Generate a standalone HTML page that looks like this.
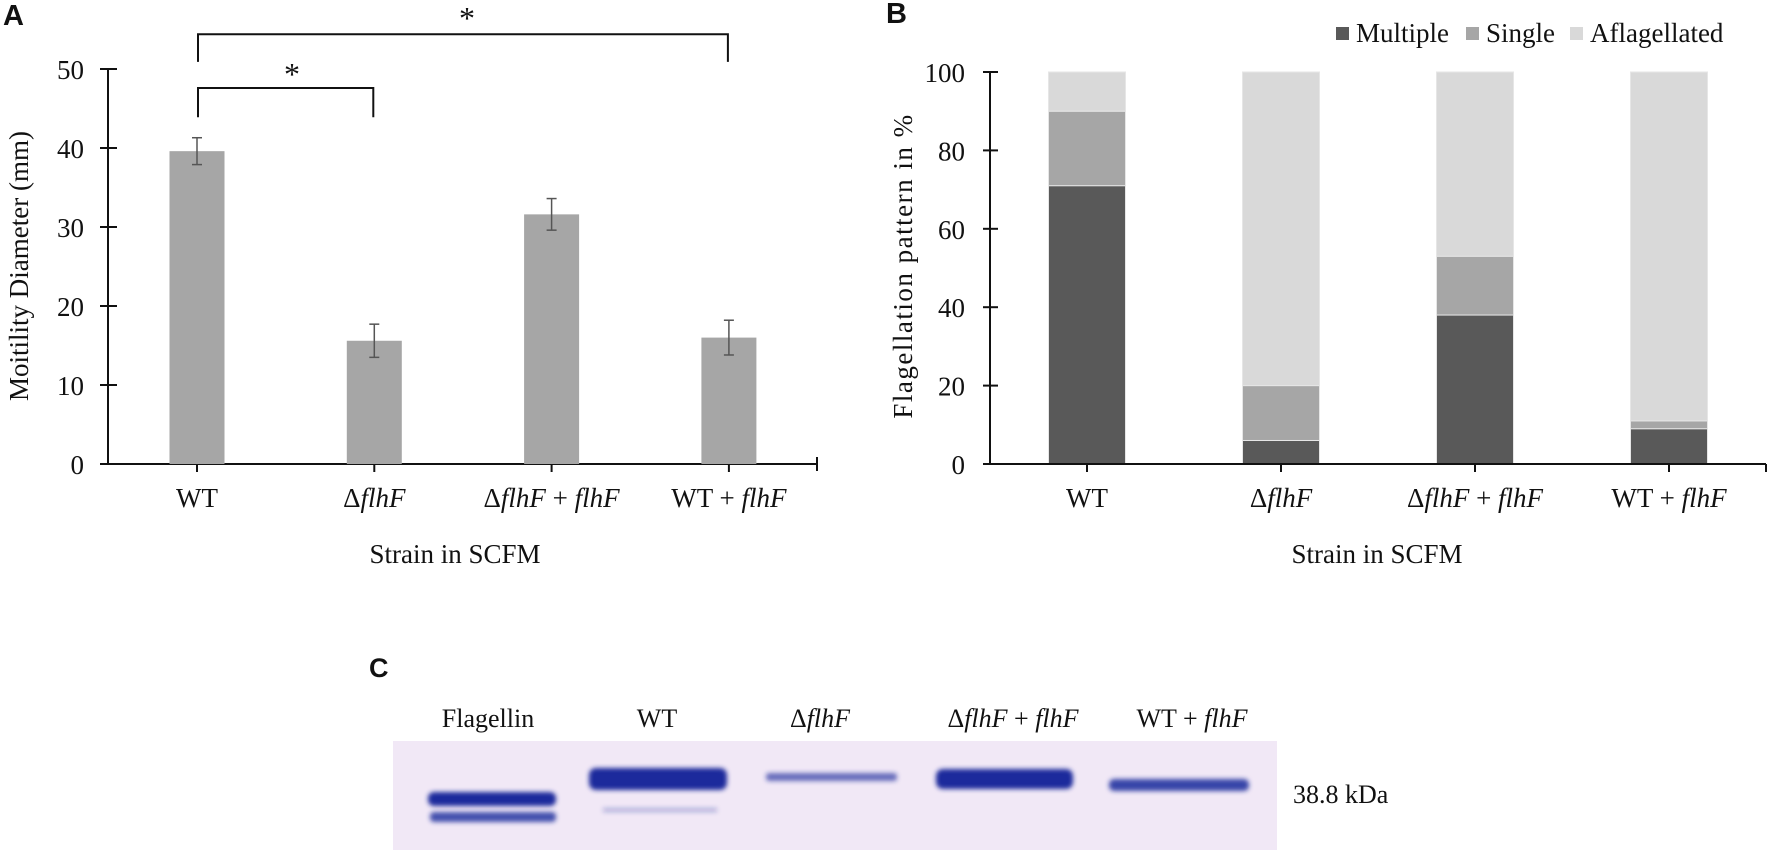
<!DOCTYPE html>
<html><head><meta charset="utf-8">
<style>
body{margin:0;background:#fff;width:1772px;height:850px;overflow:hidden}
svg text{font-family:"Liberation Serif",serif;fill:#111}
.lab{font-family:"Liberation Sans",sans-serif;font-weight:bold}
</style></head><body>
<svg id="fig" width="1772" height="850" viewBox="0 0 1772 850" xmlns="http://www.w3.org/2000/svg">
<defs>
<filter id="blur" x="-20%" y="-150%" width="140%" height="400%"><feGaussianBlur stdDeviation="2.5"/></filter>
</defs>
<text class="lab" x="3" y="25" font-size="29">A</text>
<text class="lab" x="886" y="23" font-size="29">B</text>
<text class="lab" x="369" y="677" font-size="27">C</text>
<g id="chartA"></g>
<g id="chartB"></g>
<g id="gel">
<rect x="393" y="741" width="884" height="109" fill="#f1e8f6"/>
<g filter="url(#blur)" fill="#1b2c9c">
<rect x="428" y="792" width="128" height="14" rx="6"/>
<rect x="430" y="812" width="126" height="10" rx="4" opacity="0.8"/>
<rect x="589" y="768" width="138" height="22" rx="7"/>
<rect x="603" y="808" width="114" height="4" opacity="0.3"/>
<rect x="766" y="773" width="131" height="8" rx="3" opacity="0.65"/>
<rect x="936" y="769" width="137" height="20" rx="7"/>
<rect x="1109" y="779" width="140" height="12" rx="5" opacity="0.85"/>
</g>
</g>
<text x="488" y="727" font-size="26" text-anchor="middle">Flagellin</text>
<text x="657" y="727" font-size="26" text-anchor="middle">WT</text>
<text x="820" y="727" font-size="26" text-anchor="middle">Δ<tspan font-style="italic">flhF</tspan></text>
<text x="1013" y="727" font-size="26" text-anchor="middle">Δ<tspan font-style="italic">flhF</tspan> + <tspan font-style="italic">flhF</tspan></text>
<text x="1192" y="727" font-size="26" text-anchor="middle">WT + <tspan font-style="italic">flhF</tspan></text>
<text x="1293" y="803" font-size="26">38.8  kDa</text>
</svg>
<script>
const NS='http://www.w3.org/2000/svg';
const categories=['WT','ΔflhF','ΔflhF + flhF','WT + flhF'];
const motility=[39.6,15.6,31.6,16.0];
const motilityErr=[1.7,2.1,2.0,2.2];
const aTicks=[0,10,20,30,40,50];
const multiple=[71,6,38,9];
const single=[19,14,15,2];
const aflag=[10,80,47,89];
const bTicks=[0,20,40,60,80,100];

function mk(parent,tag,attrs,text){const e=document.createElementNS(NS,tag);for(const k in attrs)e.setAttribute(k,attrs[k]);if(text!==undefined)e.textContent=text;parent.appendChild(e);return e;}
function catLabel(g,x,y,c){
  const t=mk(g,'text',{x:x,y:y,'font-size':27,'text-anchor':'middle'});
  c.split(/(flhF)/).forEach(p=>{if(!p)return;const s=mk(t,'tspan',{});s.textContent=p;if(p==='flhF')s.setAttribute('font-style','italic');});
  return t;
}
// Panel A
const A=document.getElementById('chartA');
const ayA=v=>464-v*(395/50);
const axA=i=>197+i*177.3;
let e=mk(A,'line',{x1:100,y1:ayA(0),x2:817,y2:ayA(0),stroke:'#111','stroke-width':2});

mk(A,'line',{x1:817,y1:ayA(0)-7,x2:817,y2:ayA(0)+7,stroke:'#111','stroke-width':2});
e=mk(A,'line',{x1:108,y1:ayA(0),x2:108,y2:ayA(50),stroke:'#111','stroke-width':2});

aTicks.forEach(v=>{
  mk(A,'line',{x1:100,y1:ayA(v),x2:117,y2:ayA(v),stroke:'#111','stroke-width':2});
  const t=mk(A,'text',{x:84,y:ayA(v)+10,'font-size':27,'text-anchor':'end'},String(v));
  
});
motility.forEach((v,i)=>{
  const x=axA(i);
  const r=mk(A,'rect',{x:x-27.5,y:ayA(v),width:55,height:ayA(0)-ayA(v),fill:'#a6a6a6'});
  
  mk(A,'line',{x1:x,y1:ayA(0),x2:x,y2:ayA(0)+8,stroke:'#111','stroke-width':2});
  const hi=ayA(v+motilityErr[i]),lo=ayA(v-motilityErr[i]);
  mk(A,'line',{x1:x,y1:hi,x2:x,y2:lo,stroke:'#555','stroke-width':1.5});
  mk(A,'line',{x1:x-5,y1:hi,x2:x+5,y2:hi,stroke:'#555','stroke-width':1.5});
  mk(A,'line',{x1:x-5,y1:lo,x2:x+5,y2:lo,stroke:'#555','stroke-width':1.5});
  const t=catLabel(A,x,507,categories[i]);
  
});
function bracket(i1,i2,yTop,yLeg,starX,yStar){
  const p=mk(A,'path',{d:`M${axA(i1)+1},${ayA(yLeg)}V${ayA(yTop)}H${axA(i2)-1}V${ayA(yLeg)}`,fill:'none',stroke:'#111','stroke-width':2});
  
  const s=mk(A,'text',{x:starX,y:ayA(yStar)+17,'font-size':32,'text-anchor':'middle'},'*');
  
}
bracket(0,1,47.6,43.9,292,50.1);
bracket(0,3,54.4,50.9,467,57.2);
e=mk(A,'text',{x:0,y:0,'font-size':27,'text-anchor':'middle',transform:'translate(28,266) rotate(-90)'},'Moitility Diameter (mm)');

e=mk(A,'text',{x:455,y:563,'font-size':27,'text-anchor':'middle'},'Strain in SCFM');


// Panel B
const B=document.getElementById('chartB');
const ayB=v=>464-v*(392/100);
const axB=i=>1087+i*194;
const colors=['#595959','#a6a6a6','#d9d9d9'];
const series=[multiple,single,aflag];
series.forEach((ser,s)=>{
  ser.forEach((v,i)=>{
    let base=0;for(let k=0;k<s;k++)base+=series[k][i];
    const r=mk(B,'rect',{x:axB(i)-38.5,y:ayB(base+v),width:77,height:ayB(base)-ayB(base+v),fill:colors[s],stroke:'#e6e6e6','stroke-width':1});
    
  });
});
e=mk(B,'line',{x1:983,y1:ayB(0),x2:1766,y2:ayB(0),stroke:'#111','stroke-width':2});

mk(B,'line',{x1:1766,y1:ayB(0),x2:1766,y2:ayB(0)+8,stroke:'#111','stroke-width':2});
e=mk(B,'line',{x1:990,y1:ayB(0),x2:990,y2:ayB(100),stroke:'#111','stroke-width':2});

bTicks.forEach(v=>{
  mk(B,'line',{x1:983,y1:ayB(v),x2:998,y2:ayB(v),stroke:'#111','stroke-width':2});
  const t=mk(B,'text',{x:965,y:ayB(v)+10,'font-size':27,'text-anchor':'end'},String(v));
  
});
categories.forEach((c,i)=>{
  mk(B,'line',{x1:axB(i),y1:ayB(0),x2:axB(i),y2:ayB(0)+8,stroke:'#111','stroke-width':2});
  const t=catLabel(B,axB(i),507,c);
  
});
e=mk(B,'text',{x:0,y:0,'font-size':27,'text-anchor':'middle',transform:'translate(912,266) rotate(-90)','letter-spacing':'1.5'},'Flagellation pattern in %');

e=mk(B,'text',{x:1377,y:563,'font-size':27,'text-anchor':'middle'},'Strain in SCFM');

const legNames=['Multiple','Single','Aflagellated'];
const legX=[1356,1486,1590];
legNames.forEach((n,k)=>{
  const g=mk(B,'g',{});
  
  mk(g,'rect',{x:legX[k]-20,y:27,width:13,height:13,fill:colors[k]});
  mk(g,'text',{x:legX[k],y:42,'font-size':27},n);
});
</script>
</body></html>
